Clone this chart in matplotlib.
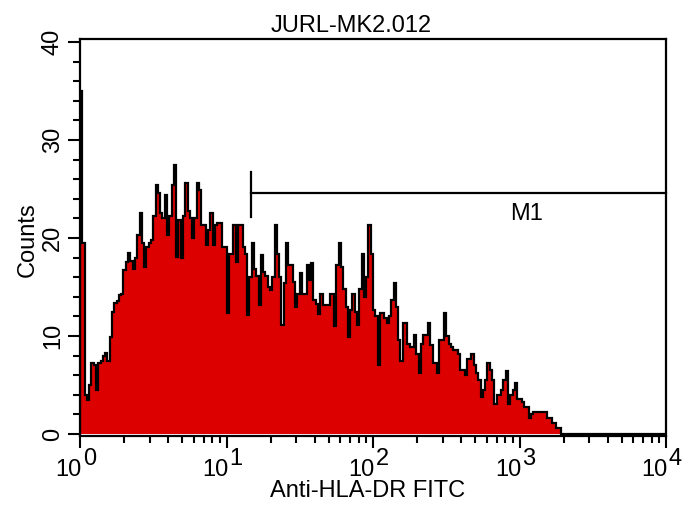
import numpy as np
import matplotlib
matplotlib.use('Agg')
import matplotlib.pyplot as plt
from matplotlib import transforms

plt.rcParams['font.family'] = ['Liberation Sans', 'DejaVu Sans']

title = 'JURL-MK2.012'
x_label = 'Anti-HLA-DR FITC'
y_label = 'Counts'

# 256 log channels over 4 decades
n_channels = 256
decades = 4
counts = [
    35, 19.5, 4, 3.5, 5, 7.2, 7, 4.5, 7.2, 7.5,
    8, 8.3, 7.5, 9.9, 12.5, 13.4, 13.6, 14.2, 14.3, 16.7,
    17.5, 18.5, 17.7, 16.8, 18, 20.3, 22.5, 19.5, 17, 19.1,
    19.5, 19.8, 22.2, 25.4, 24.6, 22.5, 22, 24.4, 20.3, 22.2,
    25.4, 27.4, 18.1, 21.8, 18, 22.2, 25.6, 22.8, 22, 20,
    22, 25.6, 24.9, 21.3, 21.3, 19.3, 20.8, 22.5, 19.3, 21.3,
    21.5, 21.5, 19.1, 19.1, 12.3, 18.4, 18.4, 21.3, 17.5, 21.3,
    21.3, 19.1, 18.4, 12.1, 16, 19.5, 16.8, 16.1, 13.2, 18.3,
    16.5, 16.1, 15, 14.7, 16, 21.3, 18.4, 16, 11.1, 15.4,
    19.5, 17.2, 17.2, 15.5, 13, 14.3, 16.4, 14.3, 14.3, 17.2,
    15.7, 17.4, 13.7, 13.3, 12.2, 14.3, 13.2, 13.2, 13.2, 14.3,
    14.3, 11, 17.2, 19.5, 17, 14.8, 13, 9.9, 12.7, 14.3,
    12.5, 11.1, 14.8, 18.4, 14, 16, 21.3, 18.4, 12.7, 12,
    7, 12.3, 12.3, 11.8, 11.3, 12, 13.7, 15.4, 13, 9.6,
    7.5, 11.3, 11.3, 9.2, 8.9, 8.9, 10.1, 8.2, 6.2, 9.2,
    10.1, 10.1, 11.3, 9.1, 7.2, 7.2, 6.2, 9.6, 9.6, 12.3,
    10, 9.2, 8.9, 8.6, 8.6, 8.2, 6.5, 6.5, 6, 7.7,
    7.7, 8.2, 7, 6.2, 5.5, 3.8, 4.5, 5.5, 7.2, 6.5,
    5.5, 3.1, 4, 4, 4.5, 5.5, 6.4, 3.1, 4, 4.5,
    5.2, 3.6, 3.6, 3.3, 2.8, 2.8, 1.6, 2, 2.2, 2.2,
    2.2, 2.2, 2.2, 2.2, 1.6, 1.6, 1.1, 1.1, 0.6, 0.6,
    0, 0, 0, 0, 0, 0, 0, 0, 0, 0,
    0, 0, 0, 0, 0, 0, 0, 0, 0, 0,
    0, 0, 0, 0, 0, 0, 0, 0, 0, 0,
    0, 0, 0, 0, 0, 0, 0, 0, 0, 0,
    0, 0, 0, 0, 0, 0,
]

# M1 marker
marker_name = 'M1'
marker_lo = 14.8
marker_hi = 1e4
marker_level = 24.6
marker_tick = (22.1, 26.7)
marker_text_pos = (1120, 22.4)

y_ticks = [0, 10, 20, 30, 40]
x_exponents = [0, 1, 2, 3, 4]

edges = 10 ** (np.arange(n_channels + 1) * decades / n_channels)

fs = 17

fig = plt.figure(figsize=(6.99, 5.09), dpi=100)
ax = fig.add_axes([80 / 699, 1 - 436 / 509, 586 / 699, 397 / 509])

ax.stairs(counts, edges, baseline=0, fill=True, color='#dd0000', lw=0)
ax.stairs(counts, edges, baseline=0, color='black', lw=1.6)

# marker bar
ax.plot([marker_lo, marker_lo], marker_tick, color='black', lw=1.6)
ax.plot([marker_lo, marker_hi], [marker_level, marker_level], color='black', lw=1.6, clip_on=False)
ax.text(marker_text_pos[0], marker_text_pos[1], marker_name, ha='center', va='center', fontsize=fs)

ax.set_xscale('log')
ax.set_xlim(1, 1e4)
ax.set_ylim(-0.2, 40.3)

for s in ax.spines.values():
    s.set_linewidth(1.6)

ax.set_yticks(y_ticks)
ax.set_yticks(np.arange(0, 41, 2), minor=True)
ax.set_yticklabels([str(t) for t in y_ticks], rotation=90, va='center', fontsize=fs)
ax.xaxis.set_major_formatter(plt.NullFormatter())
ax.xaxis.set_minor_formatter(plt.NullFormatter())
ax.tick_params(which='major', length=8.6, width=1.5, direction='out', pad=3)
ax.tick_params(which='minor', length=5, width=1.5, direction='out')

# decade labels with near full size exponent
for e in x_exponents:
    tr_base = transforms.offset_copy(ax.get_xaxis_transform(), fig=fig, x=1.4, y=-29, units='points')
    tr_exp = transforms.offset_copy(ax.get_xaxis_transform(), fig=fig, x=2.0, y=-21, units='points')
    ax.text(10 ** e, 0, '10', transform=tr_base, ha='right', va='baseline', fontsize=fs)
    ax.text(10 ** e, 0, str(e), transform=tr_exp, ha='left', va='baseline', fontsize=fs)

ax.set_title(title, fontsize=fs, pad=5, x=0.463)
ax.set_xlabel(x_label, fontsize=fs)
ax.xaxis.set_label_coords(0.49, -0.11)
ax.set_ylabel(y_label, fontsize=fs)
ax.yaxis.set_label_coords(-0.07, 0.494)

fig.savefig('out.png', dpi=100)
